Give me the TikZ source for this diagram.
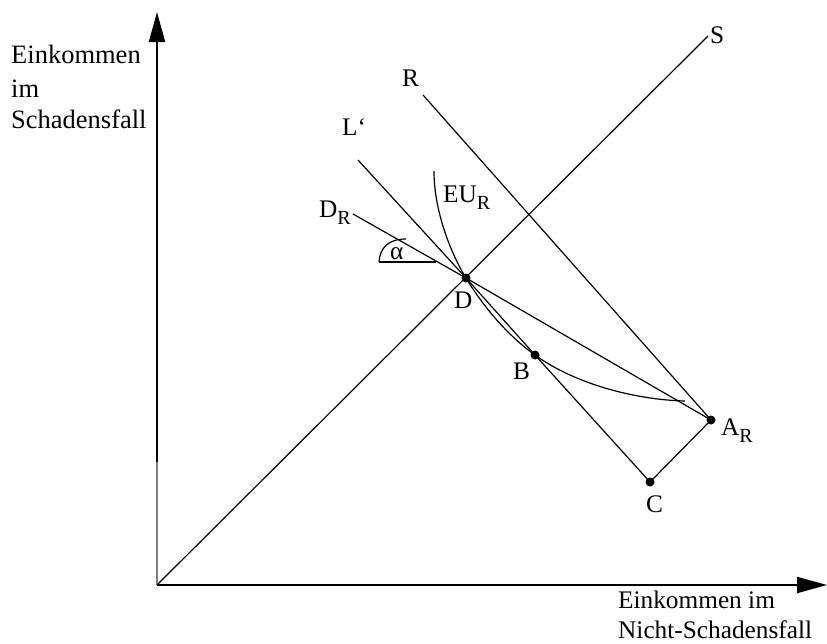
\documentclass[tikz,border=0pt]{standalone}
\usepackage{fontspec}
\setmainfont{Liberation Serif}
\usetikzlibrary{arrows.meta}
\newcommand{\subR}{\raisebox{-0.28em}{\fontsize{20}{20}\selectfont R}}
\begin{document}
\begin{tikzpicture}[x=1pt,y=-1pt,
  lbl/.style={inner sep=0pt, anchor=base west, font=\fontsize{25.3}{30}\selectfont},
  biglbl/.style={lbl, font=\fontsize{26.5}{30}\selectfont},
  ln/.style={line width=1.2pt},
  axis/.style={line width=2pt},
  tip/.style={-{Triangle[length=30pt,width=16pt]}},
  dot/.style={circle, fill=black, inner sep=0pt, minimum size=9pt}]
\useasboundingbox (0,0) rectangle (827,643);
% points
\coordinate (O) at (157,585);
\coordinate (Ytop) at (157,12);
\coordinate (Ygray) at (157,462);
\coordinate (Xend) at (827,585);
\coordinate (Send) at (708,36);
\coordinate (Rstart) at (423,95);
\coordinate (Lstart) at (358,160);
\coordinate (DRstart) at (353,214);
\coordinate (EUstart) at (434,171);
\coordinate (EUend) at (685,401);
\coordinate (alA) at (379,262);
\coordinate (alB) at (436,262);
\coordinate (alC) at (406,239);
\coordinate (D) at (466,278);
\coordinate (B) at (535,355);
\coordinate (AR) at (711,420);
\coordinate (C) at (650,482);
% axes
\draw[axis, gray] (O) -- (Ygray);
\draw[axis, tip] (Ygray) -- (Ytop);
\draw[axis, tip] (O) -- (Xend);
% lines
\draw[ln] (O) -- (Send);
\draw[ln] (Rstart) -- (AR);
\draw[ln] (AR) -- (C);
\draw[ln] (Lstart) -- (D) -- (B) -- (C);
\draw[ln] (DRstart) -- (D) -- (AR);
\draw[ln] (EUstart) .. controls (434,215) and (454,259) .. (D)
  .. controls (486,311) and (511,338) .. (B)
  .. controls (578,386) and (640,400) .. (EUend);
% alpha
\draw[line width=1.8pt] (alA) -- (alB);
\draw[ln] (alA) .. controls (380,248) and (388,239) .. (alC);
% dots
\foreach \p/\n in {D/dD,B/dB,AR/dA,C/dC} \node[dot] (\n) at (\p) {};
% labels
\node[biglbl] (ylab1) at (11,63) {Einkommen};
\node[biglbl] (ylab2) at (11,97) {im};
\node[biglbl] (ylab3) at (11,128) {Schadensfall};
\node[lbl] (xlab1) at (618,608) {Einkommen im};
\node[lbl] (xlab2) at (618,638) {Nicht-Schadensfall};
\node[lbl] (lS) at (710,43) {S};
\node[lbl] (lR) at (402,86) {R};
\node[lbl] (lL) at (342,135) {L‘};
\node[lbl] (lEU) at (443,202) {EU\subR};
\node[lbl] (lDR) at (319,217) {D\subR};
\node[lbl] (lal) at (390,259) {α};
\node[lbl] (lD) at (454,308) {D};
\node[lbl] (lB) at (513,379) {B};
\node[lbl] (lA) at (721,435) {A\subR};
\node[lbl] (lC) at (646,512) {C};
\end{tikzpicture}
\end{document}
